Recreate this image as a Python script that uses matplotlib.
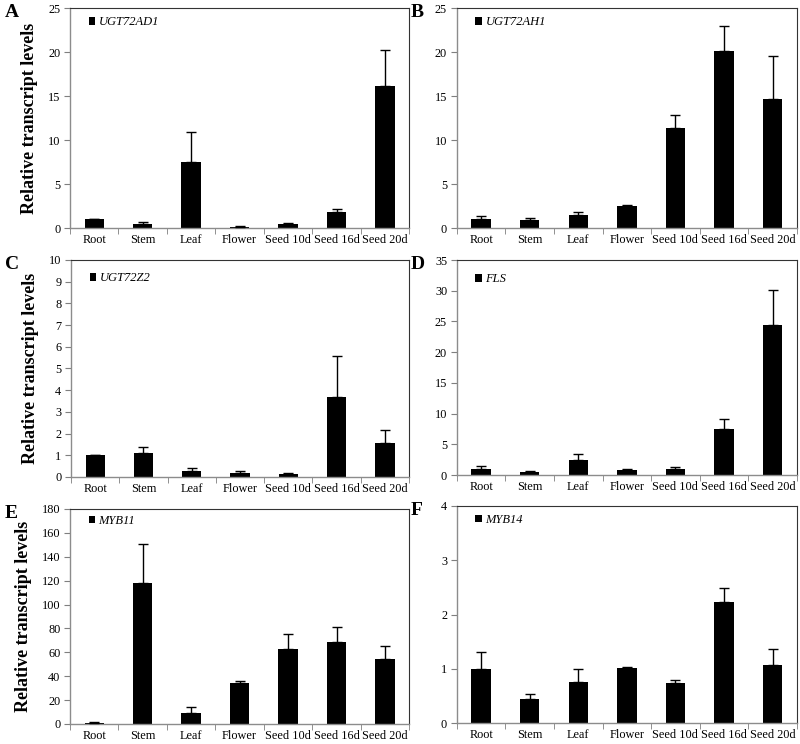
import numpy as np
import matplotlib
matplotlib.use('Agg')
import matplotlib.pyplot as plt

plt.rcParams['font.family'] = ['Liberation Serif', 'DejaVu Serif']

tissues = ['Root', 'Stem', 'Leaf', 'Flower', 'Seed 10d', 'Seed 16d', 'Seed 20d']

# mean values and upper error (SD)
ugt72ad1 = [1.0, 0.45, 7.45, 0.15, 0.5, 1.8, 16.1]
ugt72ad1_err = [0.05, 0.2, 3.45, 0.05, 0.12, 0.35, 4.1]

ugt72ah1 = [1.0, 0.9, 1.5, 2.55, 11.35, 20.1, 14.7]
ugt72ah1_err = [0.35, 0.2, 0.3, 0.12, 1.5, 2.9, 4.8]

ugt72z2 = [1.0, 1.12, 0.28, 0.18, 0.12, 3.7, 1.56]
ugt72z2_err = [0.02, 0.24, 0.12, 0.1, 0.08, 1.87, 0.62]

fls = [0.98, 0.54, 2.5, 0.85, 0.92, 7.5, 24.4]
fls_err = [0.42, 0.16, 1.0, 0.1, 0.33, 1.56, 5.8]

myb11 = [1.0, 117.8, 9.5, 34.0, 63.0, 68.7, 54.4]
myb11_err = [0.4, 32.6, 4.5, 1.7, 12.0, 12.5, 10.9]

myb14 = [1.0, 0.44, 0.75, 1.01, 0.74, 2.23, 1.07]
myb14_err = [0.31, 0.1, 0.24, 0.02, 0.06, 0.25, 0.3]

panels = [
    # letter, gene, values, errors, ymax, ystep, axes rect (l, b, w, h), legend y
    ('A', 'UGT72AD1', ugt72ad1, ugt72ad1_err, 25, 5, [0.0875, 0.6935, 0.424, 0.2957], 0.935),
    ('B', 'UGT72AH1', ugt72ah1, ugt72ah1_err, 25, 5, [0.571, 0.6935, 0.425, 0.2957], 0.935),
    ('C', 'UGT72Z2', ugt72z2, ugt72z2_err, 10, 1, [0.0888, 0.3589, 0.4225, 0.2917], 0.915),
    ('D', 'FLS', fls, fls_err, 35, 5, [0.571, 0.3615, 0.425, 0.289], 0.91),
    ('E', 'MYB11', myb11, myb11_err, 180, 20, [0.0875, 0.0269, 0.424, 0.289], 0.945),
    ('F', 'MYB14', myb14, myb14_err, 4, 1, [0.571, 0.0282, 0.425, 0.2917], 0.935),
]

fig = plt.figure(figsize=(8, 7.44), dpi=100)
x = np.arange(len(tissues))

for letter, gene, vals, errs, ymax, ystep, rect, ly in panels:
    ax = fig.add_axes(rect)
    bars = ax.bar(x, vals, width=0.4, color='black', label=gene, zorder=2)
    ax.errorbar(x, vals, yerr=[np.zeros(len(vals)), errs], fmt='none',
                ecolor='black', elinewidth=1, capsize=3.5, capthick=1, zorder=3)
    ax.set_xlim(-0.5, len(tissues) - 0.5)
    ax.set_ylim(0, ymax)
    ax.set_yticks(np.arange(0, ymax + ystep / 2, ystep))
    ax.set_xticks(x)
    ax.set_xticklabels(tissues, fontsize=8.8)
    ax.tick_params(axis='x', length=0, pad=4.5)
    ax.set_xticks(np.arange(-0.5, len(tissues), 1), minor=True)
    ax.tick_params(axis='x', which='minor', length=4, color='#7f7f7f', direction='out')
    ax.tick_params(axis='y', labelsize=8.8, length=4, color='#7f7f7f', direction='out', pad=3)
    for s in ['left', 'bottom']:
        ax.spines[s].set_color('#8c8c8c')
        ax.spines[s].set_linewidth(1)
    for s in ['top', 'right']:
        ax.spines[s].set_color('#333333')
        ax.spines[s].set_linewidth(0.8)
    ax.legend(handles=[bars], labels=[gene], loc='center left',
              bbox_to_anchor=(0.04, ly), frameon=False, handlelength=0.55,
              handleheight=0.55, handletextpad=0.25, borderaxespad=0,
              prop={'style': 'italic', 'size': 9})
    if letter in ('A', 'C', 'E'):
        ax.set_ylabel('Relative transcript levels', fontsize=13, fontweight='bold', labelpad=7)
    # panel letter placed just left of the y axis tick labels
    fig.text(rect[0] - 0.082 if letter in ('A', 'C', 'E') else rect[0] - 0.058,
             rect[1] + rect[3] + 0.005, letter, fontsize=14, fontweight='bold',
             ha='left', va='top')

fig.savefig('out.png', dpi=100)
